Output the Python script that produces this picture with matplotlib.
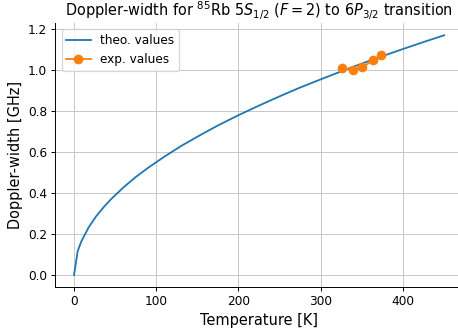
import matplotlib
matplotlib.use('Agg')
import matplotlib.pyplot as plt

# theoretical doppler width
temp_theo = [0, 4.5, 9, 18, 27, 36, 45, 60, 75, 90, 110, 130, 150, 175, 200,
             225, 250, 275, 300, 325, 350, 375, 400, 425, 450]
width_theo = [0.0, 0.117, 0.165, 0.234, 0.287, 0.331, 0.370, 0.427, 0.478,
              0.523, 0.578, 0.629, 0.675, 0.730, 0.780, 0.827, 0.872, 0.915, 0.955,
              0.994, 1.032, 1.068, 1.103, 1.137, 1.170]

# measured points
temp_exp = [325.4, 339.6, 350.6, 363.9, 372.9]
width_exp = [1.010, 1.001, 1.016, 1.047, 1.073]

DPI = 87
fig = plt.figure(figsize=(459/DPI, 333/DPI), dpi=DPI)
ax = fig.add_axes([0.1209, 0.1381, 0.887, 0.792])

ax.plot(temp_theo, width_theo, label='theo. values')
ax.plot(temp_exp, width_exp, marker='o', markersize=7, label='exp. values')

ax.set_xlabel('Temperature [K]', fontsize=12)
ax.set_ylabel('Doppler-width [GHz]', fontsize=12)
ax.set_title(r'Doppler-width for $^{85}$Rb 5$S_{1/2}$ $(F=2)$ to 6$P_{3/2}$ transition', fontsize=12)
ax.tick_params(labelsize=10)
ax.grid(True, color='#c8c8c8')
ax.spines['top'].set_visible(False)
ax.spines['right'].set_visible(False)
ax.legend(loc='upper left', fontsize=10)

fig.savefig('out.png', dpi=DPI)
